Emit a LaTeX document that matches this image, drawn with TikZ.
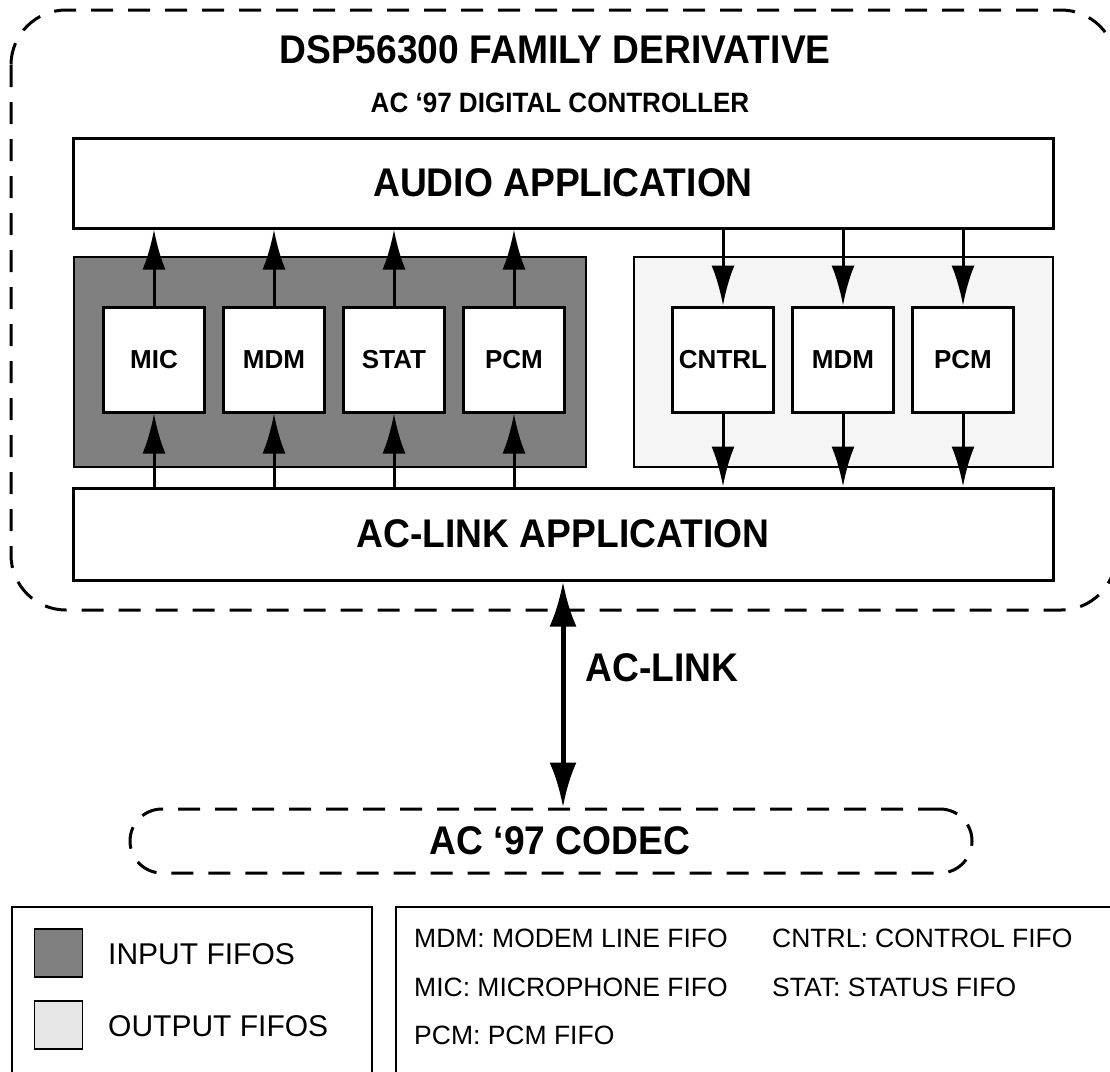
\documentclass[tikz,border=0pt]{standalone}
\usepackage{fontspec}
\setmainfont{Liberation Sans}
\newfontfamily\narrowfont[FakeStretch=0.93]{Liberation Sans}
\usetikzlibrary{arrows.meta}
\definecolor{darkfill}{HTML}{808080}
\definecolor{lightfill}{HTML}{F5F5F5}
\definecolor{swatchlight}{HTML}{E6E6E6}
\begin{document}
\begin{tikzpicture}[x=1pt,y=-1pt,
  box/.style={draw,line width=3pt,fill=white,inner sep=0pt},
  fifo/.style={box,minimum width=101pt,minimum height=105pt,font=\fontsize{26}{30}\selectfont\bfseries},
  bigfont/.style={font=\narrowfont\fontsize{40}{48}\selectfont\bfseries},
  bigbox/.style={box,minimum width=980pt,bigfont},
  region/.style={draw,line width=1.5pt,minimum height=210pt,inner sep=0pt},
  arr/.style={line width=3pt,-{Latex[length=40pt,width=23pt]}},
  dbl/.style={line width=5pt,{Latex[length=45pt,width=27pt]}-{Latex[length=45pt,width=27pt]}},
  dsh/.style={line width=3pt,dash pattern=on 22pt off 15pt},
  bigtxt/.style={inner sep=0pt,bigfont},
  legtxt/.style={inner sep=0pt,anchor=west,font=\fontsize{26.5}{30}\selectfont},
  keytxt/.style={inner sep=0pt,anchor=west,font=\fontsize{30}{36}\selectfont},
  legbox/.style={draw,line width=2pt,inner sep=0pt},
  swatch/.style={draw,line width=1.5pt,minimum width=48pt,minimum height=48pt,inner sep=0pt}
]
\clip (0,0) rectangle (1110,1071);
\fill[white] (0,0) rectangle (1110,1071);

% outer dashed frame
\draw[dsh,rounded corners=55pt] (11,10) rectangle (1116,610);

\node[bigtxt] (title) at (555,50) {DSP56300 FAMILY DERIVATIVE};
\node[inner sep=0pt,font=\narrowfont\fontsize{28}{34}\selectfont\bfseries] (sub) at (560,103) {AC ‘97 DIGITAL CONTROLLER};

\node[bigbox,minimum height=90pt] (audio) at (563,183) {AUDIO APPLICATION};
\node[bigbox,minimum height=92pt] (aclink) at (563,534) {AC-LINK APPLICATION};

\node[region,fill=darkfill,minimum width=512pt] (inreg) at (330,362) {};
\node[region,fill=lightfill,minimum width=419pt] (outreg) at (843.5,362) {};

\node[fifo] (mic) at (154,359.5) {MIC};
\node[fifo] (mdmi) at (274,359.5) {MDM};
\node[fifo] (stat) at (394,359.5) {STAT};
\node[fifo] (pcmi) at (514,359.5) {PCM};
\node[fifo] (cntrl) at (723,359.5) {CNTRL};
\node[fifo] (mdmo) at (843,359.5) {MDM};
\node[fifo] (pcmo) at (963,359.5) {PCM};

\foreach \f in {mic,mdmi,stat,pcmi}{
  \draw[arr] (aclink.north -| \f.south) -- (\f.south);
  \draw[arr] (\f.north) -- (audio.south -| \f.north);
}
\foreach \f in {cntrl,mdmo,pcmo}{
  \draw[arr] (audio.south -| \f.north) -- (\f.north);
  \draw[arr] (\f.south) -- (aclink.north -| \f.south);
}

\node[draw,dsh,rounded corners=32pt,minimum width=842pt,minimum height=64pt,inner sep=0pt,
      bigfont] (codec) at (551,841) {\hspace{18pt}AC ‘97 CODEC};

\draw[dbl] (aclink.south) -- (aclink.south |- codec.north);
\node[bigtxt] (aclbl) at (662,668) {AC-LINK};

% legend
\node[legbox,minimum width=360pt,minimum height=180pt,anchor=north west] (keybox) at (11,906) {};
\node[legbox,minimum width=725pt,minimum height=180pt,anchor=north west] (abbrbox) at (395,906) {};

\node[swatch,fill=darkfill] (sw1) at (58.5,953) {};
\node[swatch,fill=swatchlight] (sw2) at (58.5,1025) {};
\node[keytxt] (k1) at (108,954) {INPUT FIFOS};
\node[keytxt] (k2) at (108,1026) {OUTPUT FIFOS};

\node[legtxt] (a1) at (414,938) {MDM: MODEM LINE FIFO};
\node[legtxt] (a2) at (772,938) {CNTRL: CONTROL FIFO};
\node[legtxt] (a3) at (414,987) {MIC: MICROPHONE FIFO};
\node[legtxt] (a4) at (772,987) {STAT: STATUS FIFO};
\node[legtxt] (a5) at (414,1035) {PCM: PCM FIFO};
\end{tikzpicture}
\end{document}
